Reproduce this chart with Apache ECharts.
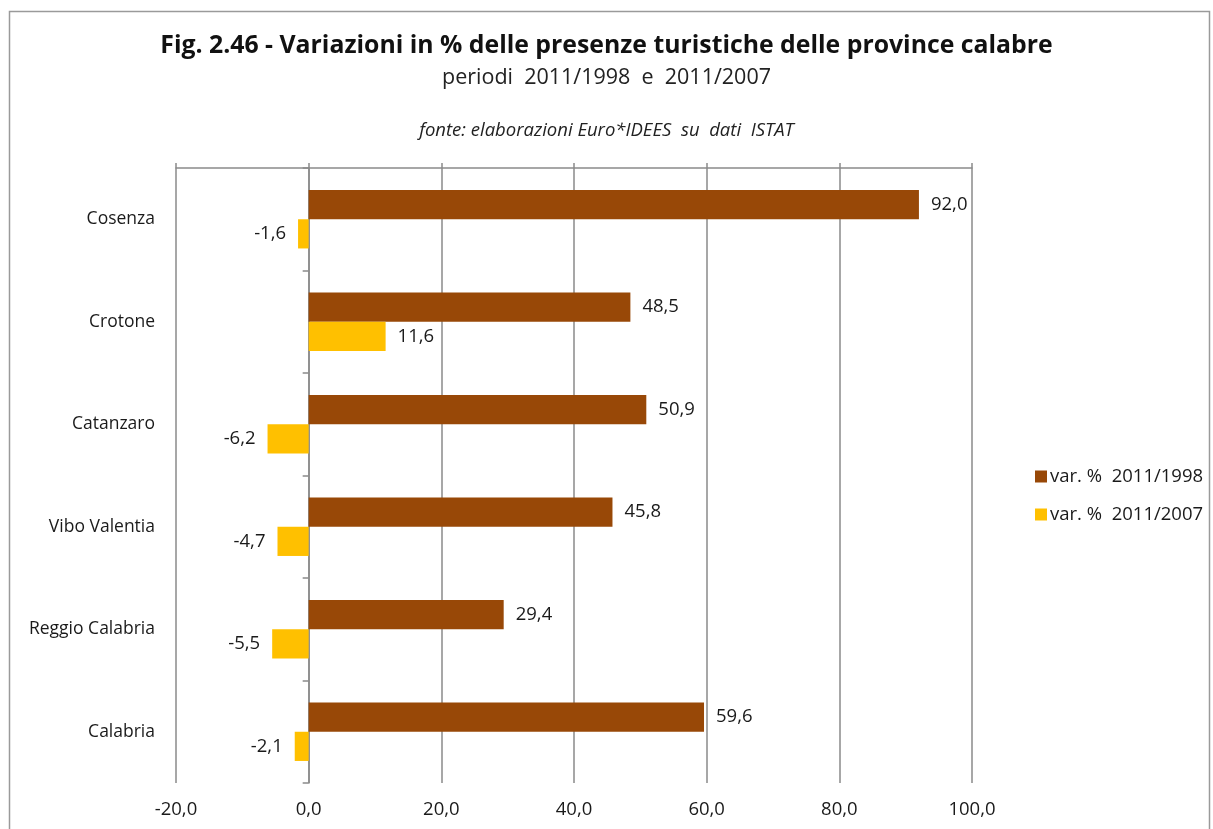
<!DOCTYPE html>
<html>
<head>
<meta charset="utf-8">
<script src="https://cdn.jsdelivr.net/npm/echarts@6/dist/echarts.min.js"></script>
<style>
html,body{margin:0;padding:0;background:#fff;}
#chart{width:1213px;height:829px;}
</style>
</head>
<body>
<div id="chart"></div>
<script>
var categories = ['Cosenza', 'Crotone', 'Catanzaro', 'Vibo Valentia', 'Reggio Calabria', 'Calabria'];
var var1998 = [92.0, 48.5, 50.9, 45.8, 29.4, 59.6];
var var2007 = [-1.6, 11.6, -6.2, -4.7, -5.5, -2.1];
var seriesNames = ['var. %  2011/1998', 'var. %  2011/2007'];
var xMin = -20, xMax = 100, xStep = 20;

var FONT = 'Open Sans';
var TXT = '#1a1a1a';
var GRIDC = '#8a8a8a';

function fmt(v) { return v.toFixed(1).replace('.', ','); }
function toData(arr) {
  return arr.map(function (v) {
    return { value: v, label: { position: v < 0 ? 'left' : 'right' } };
  });
}

var chart = echarts.init(document.getElementById('chart'));
chart.setOption({
  backgroundColor: '#fff',
  animation: false,
  textStyle: { fontFamily: FONT },
  graphic: [
    { type: 'rect', shape: { x: 9.5, y: 11.5, width: 1200, height: 840 },
      style: { fill: 'none', stroke: '#9a9a9a', lineWidth: 1.5 }, silent: true },
    { type: 'text', left: 'center', top: 33,
      style: { text: 'Fig. 2.46 - Variazioni in % delle presenze turistiche delle province calabre',
               font: 'bold 24.8px "Open Sans"', fill: '#111' } },
    { type: 'text', left: 'center', top: 67,
      style: { text: 'periodi  2011/1998  e  2011/2007', font: '21.5px "Open Sans"', fill: '#222' } },
    { type: 'text', left: 'center', top: 121,
      style: { text: 'fonte: elaborazioni Euro*IDEES  su  dati  ISTAT', font: 'italic 18.5px "Open Sans"', fill: '#222' } }
  ],
  grid: { left: 176, right: 241, top: 168, bottom: 46, containLabel: false, outerBoundsMode: 'none' },
  legend: {
    orient: 'vertical', left: 1030, top: 462, itemGap: 19,
    itemWidth: 12, itemHeight: 12, icon: 'rect',
    textStyle: { fontFamily: FONT, fontSize: 18.5, color: TXT, padding: [0, 0, 0, -2] },
    data: seriesNames
  },
  xAxis: [
    { type: 'value', min: xMin, max: xMax, interval: xStep, position: 'bottom',
      axisLine: { show: false }, axisTick: { show: false },
      axisLabel: { fontFamily: FONT, fontSize: 18.5, color: TXT, margin: 17, formatter: function (v) { return fmt(v); } },
      splitLine: { show: true, lineStyle: { color: GRIDC, width: 1.5 } } },
    { type: 'value', min: xMin, max: xMax, interval: xStep, position: 'top',
      axisLine: { show: true, lineStyle: { color: GRIDC, width: 1.5 } },
      axisTick: { show: true, length: 5, lineStyle: { color: GRIDC, width: 1.5 } },
      axisLabel: { show: false }, splitLine: { show: false } }
  ],
  yAxis: {
    type: 'category', data: categories, inverse: true,
    axisLine: { show: true, onZero: true, lineStyle: { color: GRIDC, width: 1.5 } },
    axisTick: { show: true, length: 6, lineStyle: { color: GRIDC, width: 1.5 } },
    axisLabel: { fontFamily: FONT, fontSize: 17.5, color: TXT, margin: 21, align: 'right' }
  },
  series: [
    { name: seriesNames[0], type: 'bar', xAxisIndex: 0, data: toData(var1998),
      itemStyle: { color: '#984807' }, barGap: '0%', barCategoryGap: '43%',
      label: { show: true, distance: 12, fontFamily: FONT, fontSize: 18.5, color: TXT,
               formatter: function (p) { return fmt(p.value); } } },
    { name: seriesNames[1], type: 'bar', xAxisIndex: 0, data: toData(var2007),
      itemStyle: { color: '#FFC000' }, barGap: '0%', barCategoryGap: '43%',
      label: { show: true, distance: 12, fontFamily: FONT, fontSize: 18.5, color: TXT,
               formatter: function (p) { return fmt(p.value); } } }
  ]
});
</script>
</body>
</html>
